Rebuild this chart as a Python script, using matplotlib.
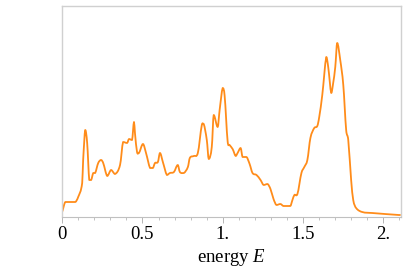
import numpy as np
import matplotlib
matplotlib.use("Agg")
import matplotlib.pyplot as plt
from matplotlib.ticker import MultipleLocator, FixedLocator
from matplotlib.path import Path
from matplotlib.patches import PathPatch

energy = [0.0, 0.019, 0.081, 0.099, 0.124, 0.130, 0.143, 0.155, 0.168, 0.180,
          0.193, 0.205, 0.224, 0.242, 0.255, 0.280, 0.304, 0.329, 0.360, 0.379,
          0.404, 0.416, 0.435, 0.447, 0.453, 0.466, 0.478, 0.503, 0.522, 0.547,
          0.565, 0.578, 0.596, 0.609, 0.627, 0.652, 0.671, 0.696, 0.720, 0.733,
          0.758, 0.783, 0.795, 0.820, 0.845, 0.870, 0.882, 0.901, 0.913, 0.932,
          0.944, 0.969, 0.981, 1.000, 1.012, 1.031, 1.043, 1.062, 1.081, 1.093,
          1.112, 1.124, 1.149, 1.168, 1.186, 1.211, 1.236, 1.255, 1.280, 1.298,
          1.317, 1.335, 1.360, 1.379, 1.422, 1.435, 1.447, 1.466, 1.491, 1.509,
          1.528, 1.547, 1.571, 1.590, 1.602, 1.621, 1.646, 1.658, 1.677, 1.689,
          1.702, 1.714, 1.733, 1.752, 1.770, 1.783, 1.801, 1.814, 1.832, 1.870,
          1.932, 2.099, 2.11]
dos = [0.04, 0.135, 0.135, 0.185, 0.325, 0.555, 0.855, 0.725, 0.355, 0.355,
       0.425, 0.425, 0.525, 0.555, 0.525, 0.395, 0.455, 0.415, 0.505, 0.735,
       0.725, 0.765, 0.755, 0.935, 0.825, 0.635, 0.625, 0.715, 0.625, 0.475,
       0.475, 0.525, 0.535, 0.625, 0.535, 0.405, 0.425, 0.435, 0.505, 0.435,
       0.425, 0.485, 0.575, 0.595, 0.625, 0.905, 0.915, 0.755, 0.565, 0.685,
       1.005, 0.885, 1.055, 1.275, 1.20, 0.74, 0.705, 0.665, 0.595, 0.625,
       0.675, 0.585, 0.585, 0.515, 0.425, 0.405, 0.355, 0.305, 0.315, 0.265,
       0.165, 0.105, 0.115, 0.095, 0.095, 0.155, 0.205, 0.215, 0.425, 0.485,
       0.555, 0.775, 0.875, 0.895, 0.985, 1.205, 1.585, 1.485, 1.225, 1.325,
       1.485, 1.725, 1.555, 1.305, 0.855, 0.755, 0.355, 0.155, 0.075, 0.035,
       0.025, 0.005, 0.005]

major_ticks = [0, 0.5, 1.0, 1.5, 2.0]
major_labels = ["0", "0.5", "1.", "1.5", "2."]

plt.rcParams['font.family'] = ['Liberation Serif', 'DejaVu Serif']
plt.rcParams['mathtext.fontset'] = 'custom'
plt.rcParams['mathtext.rm'] = 'Liberation Serif'
plt.rcParams['mathtext.it'] = 'Liberation Serif:italic'

fig = plt.figure(figsize=(4.07, 2.71), dpi=100)
ax = fig.add_axes([61.5/407, (271-216.5)/271, (400.7-61.5)/407, (216.5-6)/271])

# smooth curve through the data points (Catmull-Rom as cubic Bezier segments)
x = np.asarray(energy)
y = np.asarray(dos)
n = len(x)
verts = [(x[0], y[0])]
codes = [Path.MOVETO]
for i in range(n - 1):
    i0 = max(i - 1, 0)
    i3 = min(i + 2, n - 1)
    h = x[i + 1] - x[i]
    m1 = (y[i + 1] - y[i0]) / (x[i + 1] - x[i0])
    m2 = (y[i3] - y[i]) / (x[i3] - x[i])
    # limit slopes to avoid overshoot
    d = (y[i + 1] - y[i]) / h
    if d == 0 or m1 * d <= 0:
        m1 = 0.0 if (i > 0 and (y[i] - y[i0]) * d <= 0) else m1
    if d == 0 or m2 * d <= 0:
        m2 = 0.0 if (i < n - 2 and (y[i3] - y[i + 1]) * d <= 0) else m2
    verts += [(x[i] + h / 3, y[i] + m1 * h / 3),
              (x[i + 1] - h / 3, y[i + 1] - m2 * h / 3),
              (x[i + 1], y[i + 1])]
    codes += [Path.CURVE4, Path.CURVE4, Path.CURVE4]
ax.add_patch(PathPatch(Path(verts, codes), fill=False, edgecolor='#FF8C1A',
                       lw=1.3, joinstyle='round'))

ax.set_xlim(-0.005, 2.11)
ax.set_ylim(-0.01, 2.095)
ax.set_yticks([])
ax.xaxis.set_major_locator(FixedLocator(major_ticks))
ax.set_xticklabels(major_labels)
ax.xaxis.set_minor_locator(MultipleLocator(0.1))
ax.tick_params(axis='x', which='major', direction='out', length=4, width=0.6,
               color='#aaaaaa', labelsize=13.5, pad=3)
ax.tick_params(axis='x', which='minor', direction='out', length=2, width=0.5,
               color='#aaaaaa')
for s in ['top', 'right', 'left']:
    ax.spines[s].set_color('#d0d0d0')
    ax.spines[s].set_linewidth(1.0)
ax.spines['bottom'].set_color('#c0c0c0')
ax.spines['bottom'].set_linewidth(0.8)
ax.set_xlabel('energy $E$', fontsize=13.5, labelpad=3)
fig.savefig('out.png', dpi=100)
